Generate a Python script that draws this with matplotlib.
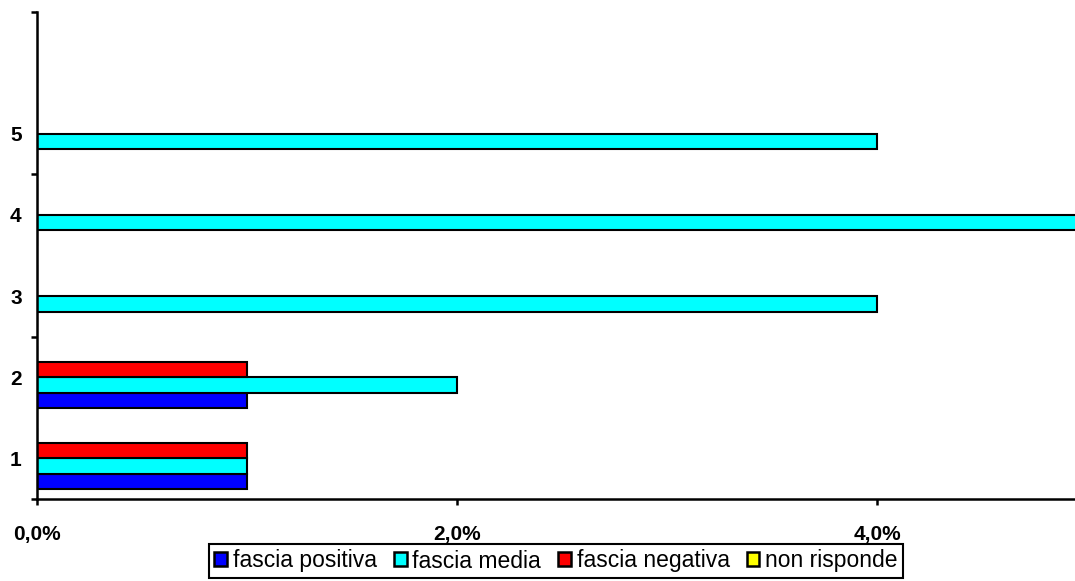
import numpy as np
import matplotlib
matplotlib.use('Agg')
import matplotlib.pyplot as plt

plt.rcParams['font.family'] = ['Liberation Sans', 'DejaVu Sans']

### data (percent)
categories = ['1', '2', '3', '4', '5', '']
series_names = ['fascia positiva', 'fascia media', 'fascia negativa', 'non risponde']
positiva = [1.0, 1.0, 0.0, 0.0, 0.0, 0.0]
media = [1.0, 2.0, 4.0, 5.0, 4.0, 0.0]
negativa = [1.0, 1.0, 0.0, 0.0, 0.0, 0.0]
non_risponde = [0.0, 0.0, 0.0, 0.0, 0.0, 0.0]
xticks = [0, 2, 4]
xticklabels = ['0,0%', '2,0%', '4,0%']
colors = ['#0000FF', '#00FFFF', '#FF0000', '#FFFF00']

#%%
W, H = 1075, 581
fig = plt.figure(figsize=(W / 100, H / 100), dpi=100)
ax = fig.add_axes([37 / W, (H - 499) / H, 1 - 37 / W, (499 - 12) / H])

y = np.arange(1, len(categories) + 1)
h = 0.19
allseries = [positiva, media, negativa, non_risponde]
for k, (vals, name, c) in enumerate(zip(allseries, series_names, colors)):
    ax.barh(y + (k - 1.5) * h, vals, height=h, color=c, edgecolor='black',
            linewidth=1.5, label=name)

ax.set_xlim(0, (W - 37) / 210)
ax.set_ylim(0.5, len(categories) + 0.5)

for s in ['top', 'right']:
    ax.spines[s].set_visible(False)
for s in ['left', 'bottom']:
    ax.spines[s].set_linewidth(1.8)

ax.set_xticks(xticks)
ax.set_xticklabels(xticklabels, fontsize=15, fontweight='bold')
ax.tick_params(axis='x', length=4.5, width=1.8, pad=14)

ax.set_yticks(y)
ax.set_yticklabels(categories, fontsize=15, fontweight='bold')
ax.set_yticks(np.arange(0.5, len(categories) + 1, 2), minor=True)
ax.tick_params(axis='y', which='major', length=0, pad=11)
ax.tick_params(axis='y', which='minor', length=4.5, width=1.8)

leg = fig.legend(loc='center', bbox_to_anchor=(556 / W, (H - 561) / H), ncol=4,
                 fontsize=16.5, frameon=True, fancybox=False, borderpad=0.25,
                 handlelength=0.55, handleheight=0.55, handletextpad=0.25,
                 columnspacing=0.75, borderaxespad=0)
leg.get_frame().set_edgecolor('black')
leg.get_frame().set_linewidth(1.5)
leg.get_frame().set_alpha(1)
for p in leg.get_patches():
    p.set_linewidth(1.8)

plt.savefig('out.png', dpi=100)
